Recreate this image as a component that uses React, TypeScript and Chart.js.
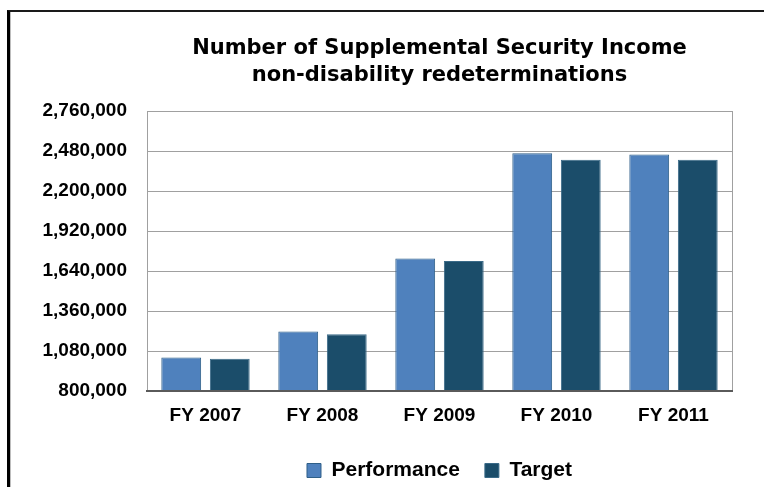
import React, { useEffect, useRef } from "react";
import { Chart, registerables } from "chart.js";

Chart.register(...registerables);

const categories = ["FY 2007", "FY 2008", "FY 2009", "FY 2010", "FY 2011"];
const performance = [1035000, 1217000, 1727000, 2464000, 2455000];
const target = [1025000, 1198000, 1710000, 2418000, 2418000];
const seriesNames = ["Performance", "Target"];
const yMin = 800000;
const yMax = 2760000;
const yStep = 280000;
const titleLines = ["Number of Supplemental Security Income", "non-disability redeterminations"];

const FONT = "'Liberation Sans', Arial, Helvetica, sans-serif";
const TITLE_FONT = "'DejaVu Sans', Verdana, sans-serif";

const plotFrame = {
  id: "plotFrame",
  beforeDatasetsDraw(chart: any) {
    const { ctx, chartArea } = chart;
    ctx.save();
    ctx.strokeStyle = "#a0a0a0";
    ctx.lineWidth = 1;
    ctx.beginPath();
    const x = Math.round(chartArea.right) + 0.5;
    ctx.moveTo(x, chartArea.top);
    ctx.lineTo(x, chartArea.bottom);
    ctx.stroke();
    ctx.restore();
  },
};

export default function App() {
  const ref = useRef<HTMLCanvasElement | null>(null);

  useEffect(() => {
    if (!ref.current) return;
    const chart = new Chart(ref.current, {
      type: "bar",
      data: {
        labels: categories,
        datasets: [
          {
            label: seriesNames[0],
            data: performance,
            backgroundColor: "#4f81bd",
            borderColor: "#2f5f88",
            borderWidth: 1,
            categoryPercentage: 0.83,
            barPercentage: 0.82,
          },
          {
            label: seriesNames[1],
            data: target,
            backgroundColor: "#1b4d6a",
            borderColor: "#3a6a88",
            borderWidth: 1,
            categoryPercentage: 0.83,
            barPercentage: 0.82,
          },
        ],
      },
      options: {
        animation: false,
        responsive: true,
        maintainAspectRatio: false,
        layout: { padding: { left: 0, right: 32, top: 0, bottom: -4 } },
        plugins: {
          title: {
            display: true,
            text: titleLines,
            fullSize: false,
            color: "#000",
            font: { family: TITLE_FONT, size: 21, weight: "bold", lineHeight: "27px" } as any,
            padding: { top: 35, bottom: 22 },
          },
          legend: {
            position: "bottom",
            fullSize: false,
            labels: {
              boxWidth: 14,
              boxHeight: 14,
              padding: 25,
              color: "#000",
              font: { family: FONT, size: 21, weight: "bold" },
            },
          },
          tooltip: { enabled: false },
        },
        scales: {
          x: {
            afterFit(scale: any) {
              scale.height = 44;
            },
            grid: { display: false, drawTicks: false },
            border: { display: true, color: "#5a5a5a", width: 2, z: 1 } as any,
            ticks: {
              color: "#000",
              padding: 13,
              font: { family: FONT, size: 19, weight: "bold" },
            },
          },
          y: {
            min: yMin,
            max: yMax,
            afterFit(scale: any) {
              scale.width = 147;
            },
            grid: { color: "#a0a0a0", lineWidth: 1, drawTicks: false },
            border: { display: true, color: "#a0a0a0", width: 1 },
            ticks: {
              stepSize: yStep,
              padding: 20,
              color: "#000",
              font: { family: FONT, size: 19, weight: "bold" },
              callback: (v: any) => Number(v).toLocaleString("en-US"),
            },
          },
        },
      },
      plugins: [plotFrame],
    });
    return () => chart.destroy();
  }, []);

  return (
    <>
      <div
        style={{
          position: "fixed",
          left: 7,
          top: 10,
          width: 900,
          height: 600,
          borderTop: "2px solid #1a1a1a",
          borderLeft: "3px solid #000",
          boxShadow: "inset 1px 0 0 #bdbdbd",
          background: "#fff",
        }}
      />
      <div style={{ position: "fixed", left: 0, top: 0, width: 764, height: 487 }}>
        <canvas ref={ref} />
      </div>
    </>
  );
}
